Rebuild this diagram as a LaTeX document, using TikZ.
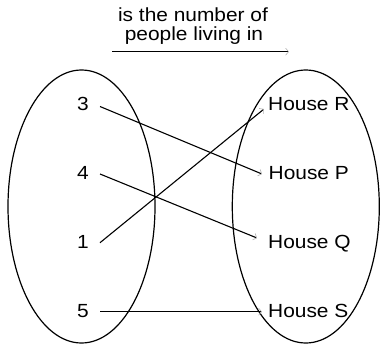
\documentclass[tikz,border=0pt]{standalone}
\usepackage{fontspec}
\setmainfont{Liberation Sans}[FakeStretch=1.1]
\usetikzlibrary{arrows.meta}
\begin{document}
\begin{tikzpicture}[x=1pt,y=-1pt,
  lab/.style={font=\fontsize{19}{19}\selectfont, inner sep=0pt},
  conn/.style={line width=1.1pt, -{Straight Barb[length=3pt,width=7pt,line width=0.6pt,color=gray!60]}},
  oval/.style={draw, line width=1.2pt}]
\useasboundingbox (0,0) rectangle (380,348);
% ellipses
\draw[oval] (81.5,206.5) ellipse [x radius=73.5, y radius=136.5];
\draw[oval] (305.8,206.5) ellipse [x radius=73.5, y radius=136.5];
% title
\node[lab, anchor=base] (t1) at (193,21.7) {is the number of};
\node[lab, anchor=base] (t2) at (194,40) {people living in};
\coordinate (a0) at (112,51.7);
\coordinate (a1) at (289,51.7);
\draw[conn] (a0) -- (a1);
% left labels
\node[lab, anchor=base] (n3) at (83,110) {3};
\node[lab, anchor=base] (n4) at (83,179) {4};
\node[lab, anchor=base] (n1) at (83,248) {1};
\node[lab, anchor=base] (n5) at (83,317) {5};
% right labels
\node[lab, anchor=base west] (hR) at (268,110.7) {House R};
\node[lab, anchor=base west] (hP) at (268.5,179) {House P};
\node[lab, anchor=base west] (hQ) at (268,248) {House Q};
\node[lab, anchor=base west] (hS) at (268,317) {House S};
% connector ends
\coordinate (s3) at (100,106.5);
\coordinate (s4) at (100,174);
\coordinate (s1) at (100,242.7);
\coordinate (s5) at (100,311.7);
\coordinate (eP) at (262,174);
\coordinate (eQ) at (257,238);
\coordinate (eR) at (264,109);
\coordinate (eS) at (262,311.7);
\draw[conn] (s3) -- (eP);
\draw[conn] (s4) -- (eQ);
\draw[conn] (s1) -- (eR);
\draw[conn] (s5) -- (eS);
\end{tikzpicture}
\end{document}
